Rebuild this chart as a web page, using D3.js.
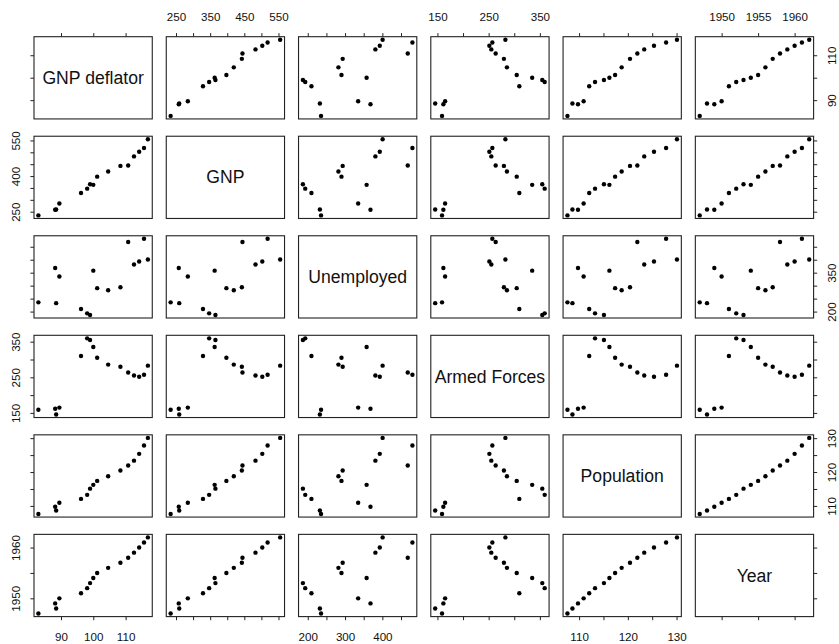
<!DOCTYPE html>
<html>
<head>
<meta charset="utf-8">
<script src="https://cdn.jsdelivr.net/npm/d3@7"></script>
<style>
  html, body { margin: 0; padding: 0; background: #fff; }
  svg { display: block; }
  text { font-family: "Liberation Sans", Arial, Helvetica, sans-serif; fill: #111; }
</style>
</head>
<body>
<svg id="chart" width="839" height="644"></svg>
<script>
// Longley economic data, 1947–1962
const variableNames = ["GNP deflator", "GNP", "Unemployed", "Armed Forces", "Population", "Year"];
const gnpDeflator = [83.0, 88.5, 88.2, 89.5, 96.2, 98.1, 99.0, 100.0, 101.2, 104.6, 108.4, 110.8, 112.6, 114.2, 115.7, 116.9];
const gnp = [234.289, 259.426, 258.054, 284.599, 328.975, 346.999, 365.385, 363.112, 397.469, 419.180, 442.769, 444.546, 482.704, 502.601, 518.173, 554.894];
const unemployed = [235.6, 232.5, 368.2, 335.1, 209.9, 193.2, 187.0, 357.8, 290.4, 282.2, 293.6, 468.1, 381.3, 393.1, 480.6, 400.7];
const armedForces = [159.0, 145.6, 161.6, 165.0, 309.9, 359.4, 354.7, 335.0, 304.8, 285.7, 279.8, 263.7, 255.2, 251.4, 257.2, 282.7];
const population = [107.608, 108.632, 109.773, 110.929, 112.075, 113.270, 115.094, 116.219, 117.388, 118.734, 120.445, 121.950, 123.366, 125.368, 127.852, 130.081];
const year = [1947, 1948, 1949, 1950, 1951, 1952, 1953, 1954, 1955, 1956, 1957, 1958, 1959, 1960, 1961, 1962];

// Tick positions for each variable
const deflatorTicks = [90, 100, 110];
const gnpTicks = [250, 300, 350, 400, 450, 500, 550];
const unemployedTicks = [200, 250, 300, 350, 400, 450];
const armedTicks = [150, 200, 250, 300, 350];
const populationTicks = [110, 115, 120, 125, 130];
const yearTicks = [1950, 1955, 1960];

// Labelled ticks on each outer side (others are drawn unlabelled)
const topLabels = { 1: [250, 350, 450, 550], 3: [150, 250, 350], 5: [1950, 1955, 1960] };
const bottomLabels = { 0: [90, 100, 110], 2: [200, 300, 400], 4: [110, 120, 130] };
const leftLabels = { 1: [250, 400, 550], 3: [150, 250, 350], 5: [1950, 1960] };
const rightLabels = { 0: [90, 110], 2: [200, 350], 4: [110, 120, 130] };

const columns = [gnpDeflator, gnp, unemployed, armedForces, population, year];
const ticks = [deflatorTicks, gnpTicks, unemployedTicks, armedTicks, populationTicks, yearTicks];
const n = columns.length;

// Panel grid geometry
const gridLeft = 34, gridRight = 813.6, gridTop = 36.7, gridBottom = 616.6;
const colGap = 14, rowGap = 17.3;
const panelW = (gridRight - gridLeft - colGap * (n - 1)) / n;
const panelH = (gridBottom - gridTop - rowGap * (n - 1)) / n;
const tickLen = 3.6;

const svg = d3.select("#chart");

// Domain padded by 4% on each side
function paddedDomain(values) {
  const [lo, hi] = d3.extent(values);
  const pad = (hi - lo) * 0.04;
  return [lo - pad, hi + pad];
}
const domains = columns.map(paddedDomain);

for (let i = 0; i < n; i++) {        // row: y variable
  for (let j = 0; j < n; j++) {      // column: x variable
    const x0 = gridLeft + j * (panelW + colGap);
    const y0 = gridTop + i * (panelH + rowGap);
    const xScale = d3.scaleLinear().domain(domains[j]).range([0, panelW]);
    const yScale = d3.scaleLinear().domain(domains[i]).range([panelH, 0]);
    const g = svg.append("g").attr("transform", `translate(${x0},${y0})`);

    const fmt = d => String(d);

    // Outer axes: ticks always, labels only on the chosen sides
    if (i === 0) {
      const labs = topLabels[j] || [];
      const ax = d3.axisTop(xScale).tickValues(ticks[j]).tickSize(tickLen).tickPadding(12)
        .tickFormat(d => labs.includes(d) ? fmt(d) : "");
      g.append("g").call(ax).call(styleAxis);
    }
    if (i === n - 1) {
      const labs = bottomLabels[j] || [];
      const ax = d3.axisBottom(xScale).tickValues(ticks[j]).tickSize(tickLen).tickPadding(13)
        .tickFormat(d => labs.includes(d) ? fmt(d) : "");
      g.append("g").attr("transform", `translate(0,${panelH})`).call(ax).call(styleAxis);
    }
    if (j === 0) {
      const labs = leftLabels[i] || [];
      const ax = d3.axisLeft(yScale).tickValues(ticks[i]).tickSize(tickLen).tickFormat("");
      const ag = g.append("g").call(ax).call(styleAxis);
      ag.selectAll(".tick").filter(d => labs.includes(d)).append("text")
        .attr("transform", "rotate(-90)")
        .attr("x", 0).attr("y", -14.5)
        .attr("text-anchor", "middle")
        .attr("font-size", 11.6)
        .text(fmt);
    }
    if (j === n - 1) {
      const labs = rightLabels[i] || [];
      const ax = d3.axisRight(yScale).tickValues(ticks[i]).tickSize(tickLen).tickFormat("");
      const ag = g.append("g").attr("transform", `translate(${panelW},0)`).call(ax).call(styleAxis);
      ag.selectAll(".tick").filter(d => labs.includes(d)).append("text")
        .attr("transform", "rotate(-90)")
        .attr("x", 0).attr("y", 22)
        .attr("text-anchor", "middle")
        .attr("font-size", 11.6)
        .text(fmt);
    }

    // Panel frame
    g.append("rect")
      .attr("x", 0).attr("y", 0)
      .attr("width", panelW).attr("height", panelH)
      .attr("fill", "none").attr("stroke", "#222").attr("stroke-width", 1.1);

    if (i === j) {
      g.append("text")
        .attr("x", panelW / 2).attr("y", panelH / 2)
        .attr("dy", "0.35em")
        .attr("text-anchor", "middle")
        .attr("font-size", 17.6)
        .text(variableNames[i]);
    } else {
      const pts = d3.range(columns[i].length);
      g.selectAll("circle").data(pts).join("circle")
        .attr("cx", k => xScale(columns[j][k]))
        .attr("cy", k => yScale(columns[i][k]))
        .attr("r", 2.2)
        .attr("fill", "#000");
    }
  }
}

function styleAxis(sel) {
  sel.select(".domain").remove();
  sel.selectAll(".tick line").attr("stroke", "#222").attr("stroke-width", 1);
  sel.selectAll(".tick text").attr("font-size", 11.6)
    .attr("font-family", "'Liberation Sans', Arial, Helvetica, sans-serif").attr("fill", "#111");
}
</script>
</body>
</html>
